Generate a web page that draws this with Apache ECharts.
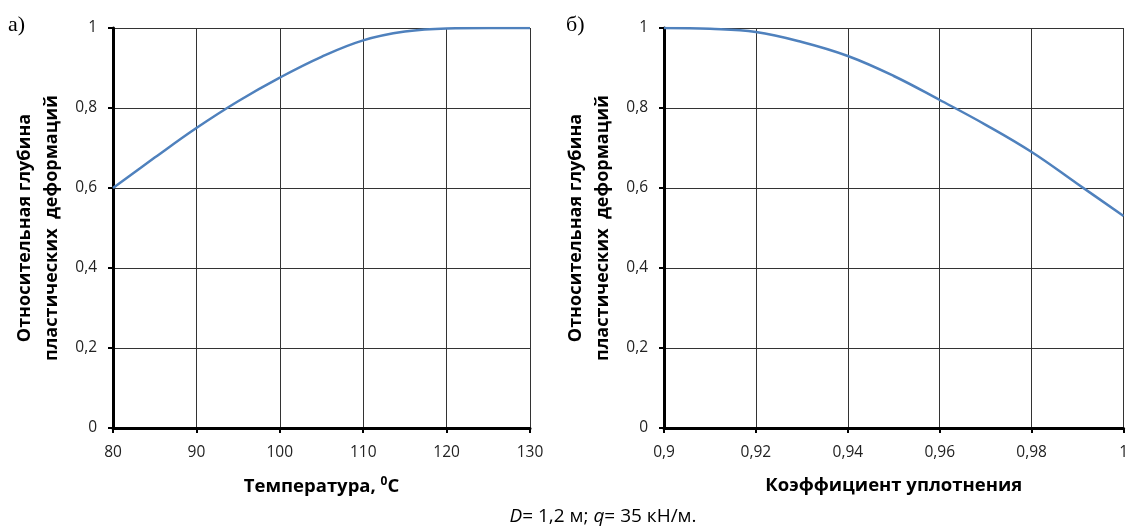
<!DOCTYPE html>
<html><head><meta charset="utf-8">
<script src="https://cdn.jsdelivr.net/npm/echarts@6/dist/echarts.min.js"></script>
<style>html,body{margin:0;padding:0;background:#fff}#c{width:1131px;height:528px}</style>
</head><body><div id="c"></div>
<script>
const tempX = [80, 85, 90, 95, 100, 105, 110, 115, 120, 125, 130];
const tempY = [0.60, 0.676, 0.75, 0.817, 0.876, 0.928, 0.969, 0.991, 0.999, 1.0, 1.0];
const kX = [0.90, 0.91, 0.92, 0.93, 0.94, 0.95, 0.96, 0.97, 0.98, 0.99, 1.00];
const kY = [1.0, 0.998, 0.99, 0.965, 0.93, 0.88, 0.82, 0.758, 0.69, 0.61, 0.53];
const yTitle = 'Относительная глубина\nпластических  деформаций';
const xTitleA = 'Температура, {sup|0}C';
const xTitleB = 'Коэффициент уплотнения';

const fmt = v => String(+v.toFixed(4)).replace('.', ',');
const FONT = 'Open Sans';
const lblStyle = {color: '#222', fontFamily: FONT, fontSize: 15.5};
const gridLine = {show: true, lineStyle: {color: '#333', width: 1}};
const axLine = {show: true, onZero: false, lineStyle: {color: '#000', width: 3}};
const tick = {show: true, length: 5, lineStyle: {color: '#000', width: 2}};

function xAxis(idx, min, max, interval, name) {
  return {
    type: 'value', gridIndex: idx, min, max, interval,
    axisLine: axLine, axisTick: tick, splitLine: gridLine,
    axisLabel: Object.assign({margin: 17, formatter: fmt}, lblStyle),
    name, nameLocation: 'middle', nameGap: 48,
    nameTextStyle: {fontFamily: FONT, fontSize: 18.5, fontWeight: 'bold', color: '#000',
      rich: {sup: {fontSize: 12, fontWeight: 'bold', fontFamily: FONT, color: '#000', verticalAlign: 'top', padding: [0,0,9,0]}}}
  };
}
function yAxis(idx) {
  return {
    type: 'value', gridIndex: idx, min: 0, max: 1, interval: 0.2,
    axisLine: axLine, axisTick: tick, splitLine: gridLine,
    axisLabel: Object.assign({margin: 16, formatter: fmt}, lblStyle),
    name: yTitle, nameLocation: 'middle', nameGap: 48, nameRotate: 90,
    nameTextStyle: {fontFamily: FONT, fontSize: 18, fontWeight: 'bold', color: '#000', lineHeight: 27, align: 'center'}
  };
}
const lineStyle = {color: '#4F81BD', width: 2.5};
const option = {
  animation: false,
  grid: [
    {left: 113, right: 601, top: 28, bottom: 100},
    {left: 664, right: 3, top: 28, bottom: 100}
  ],
  xAxis: [xAxis(0, 80, 130, 10, xTitleA), xAxis(1, 0.9, 1.0, 0.02, xTitleB)],
  yAxis: [yAxis(0), yAxis(1)],
  series: [
    {type: 'line', xAxisIndex: 0, yAxisIndex: 0, smooth: 0.4, showSymbol: false,
     lineStyle, data: tempX.map((x, i) => [x, tempY[i]])},
    {type: 'line', xAxisIndex: 1, yAxisIndex: 1, smooth: 0.4, showSymbol: false,
     lineStyle, data: kX.map((x, i) => [x, kY[i]])}
  ],
  graphic: [
    {type: 'text', x: 8, y: 25, style: {text: 'а)', font: '22px "Liberation Serif"', fill: '#000', textVerticalAlign: 'middle'}},
    {type: 'text', x: 566, y: 25, style: {text: 'б)', font: '22px "Liberation Serif"', fill: '#000', textVerticalAlign: 'middle'}},
    {type: 'text', x: 603, y: 517, style: {
      text: '{i|D}= 1,2 м; {i|q}= 35 кН/м.',
      font: '19px "Open Sans"', fill: '#000', textAlign: 'center', textVerticalAlign: 'middle',
      rich: {i: {fontStyle: 'italic', fontFamily: FONT, fontSize: 19, fill: '#000'}}
    }}
  ]
};
echarts.init(document.getElementById('c')).setOption(option);
</script></body></html>
